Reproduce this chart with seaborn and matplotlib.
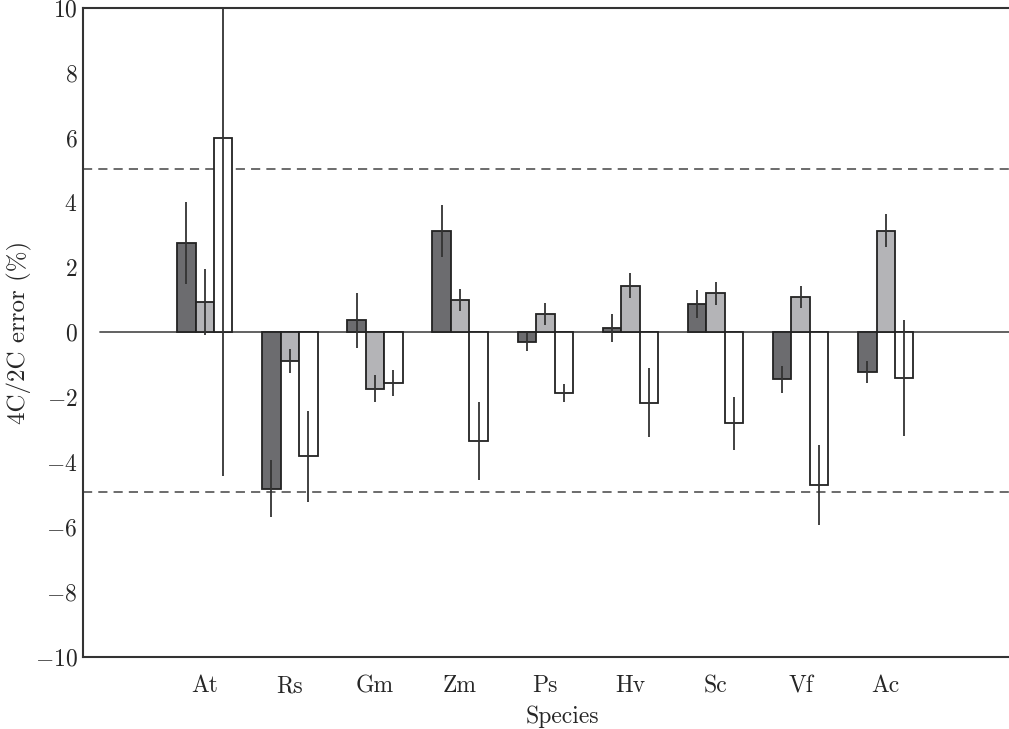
"""4C/2C error per species, three estimates per species with error bars."""

import numpy as np
import pandas as pd
import matplotlib
matplotlib.use("Agg")
import matplotlib.pyplot as plt
import seaborn as sns

species = ["At", "Rs", "Gm", "Zm", "Ps", "Hv", "Sc", "Vf", "Ac"]
series = ["dark", "grey", "white"]

dark_vals = [2.75, -4.82, 0.38, 3.14, -0.30, 0.14, 0.87, -1.45, -1.23]
dark_err = [1.27, 0.88, 0.85, 0.80, 0.27, 0.42, 0.44, 0.42, 0.34]

grey_vals = [0.94, -0.89, -1.74, 1.00, 0.58, 1.44, 1.20, 1.09, 3.14]
grey_err = [1.03, 0.37, 0.42, 0.35, 0.34, 0.39, 0.35, 0.34, 0.52]

white_vals = [5.98, -3.82, -1.55, -3.34, -1.88, -2.17, -2.80, -4.70, -1.40]
white_err = [10.4, 1.40, 0.40, 1.21, 0.28, 1.06, 0.82, 1.24, 1.78]

y_ticks = [-10, -8, -6, -4, -2, 0, 2, 4, 6, 8, 10]
limits = [5.05, -4.92]

df = pd.DataFrame({
    "species": species * 3,
    "series": np.repeat(series, len(species)),
    "value": dark_vals + grey_vals + white_vals,
})
vals = [dark_vals, grey_vals, white_vals]
errs = [dark_err, grey_err, white_err]

sns.set_style("white")
plt.rcParams["font.family"] = ["cmr10", "DejaVu Serif"]
plt.rcParams["mathtext.fontset"] = "cm"
plt.rcParams["axes.formatter.use_mathtext"] = True
plt.rcParams["axes.unicode_minus"] = True

fig = plt.figure(figsize=(10.09, 7.29), dpi=100)
ax = fig.add_axes([0.0823, 0.099, 0.95, 0.89])

sns.barplot(
    data=df, x="species", y="value", hue="series",
    palette=["#6b6b6f", "#b4b4b7", "#ffffff"],
    edgecolor="#222222", linewidth=1.3, width=0.65,
    errorbar=None, legend=False, ax=ax, zorder=3,
)

# error bars centred on each bar tip
for cont, v, err in zip(ax.containers, vals, errs):
    xs = [b.get_x() + b.get_width() / 2 for b in cont]
    ax.errorbar(xs, v, yerr=err, fmt="none", ecolor="#333333",
                elinewidth=1.3, capsize=0, zorder=4)

ax.axhline(0, xmin=0.018, color="#555555", lw=1.3, zorder=2)
for lv in limits:
    ax.axhline(lv, color="#444444", lw=1.1, ls=(0, (6, 4)), zorder=1)

ax.set_xlim(-1.43, 9.83)
ax.set_ylim(-10, 10)
ax.set_yticks(y_ticks)
ax.tick_params(axis="y", direction="in", length=10, width=1.2,
               color="#333333", labelsize=17, pad=4)
ax.tick_params(axis="x", length=0, labelsize=17, pad=13)

ax.set_xlabel("Species", fontsize=17, labelpad=6)
ax.set_ylabel("4C/2C error (%)", fontsize=18, labelpad=2)

for s in ["left", "bottom", "top"]:
    ax.spines[s].set_color("#333333")
    ax.spines[s].set_linewidth(1.5)
ax.spines["right"].set_visible(False)

fig.savefig("out.png", dpi=100)
